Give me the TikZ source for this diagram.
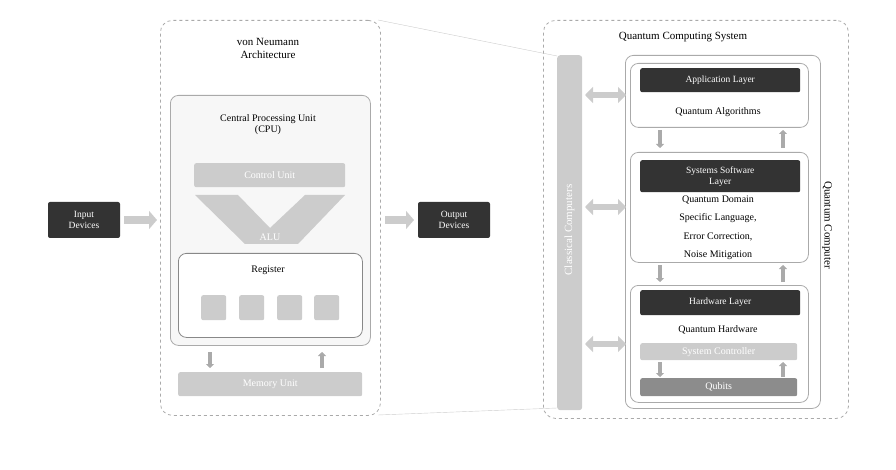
\documentclass[tikz,border=0pt]{standalone}
\usepackage{fontspec}
\setmainfont{Liberation Serif}
\usetikzlibrary{arrows.meta}
\definecolor{lg}{HTML}{CCCCCC}
\definecolor{bd}{HTML}{AAAAAA}
\definecolor{dk}{HTML}{333333}
\begin{document}
\begin{tikzpicture}[x=1pt,y=-1pt,font=\fontsize{10}{11}\selectfont,
 dbox/.style={draw=bd,dashed,thick,rounded corners=12},
 sbox/.style={draw=bd,thick,rounded corners=8},
 blk/.style={fill=dk,rounded corners=2,text=white,align=center,font=\fontsize{9.5}{11}\selectfont},
 bar/.style={fill=lg,rounded corners=2,text=white},
 garr/.style={-{Triangle[length=4pt,width=8pt]},line width=3.5pt,draw=bd},
 darr/.style={{Triangle[length=8pt,width=16pt]}-{Triangle[length=8pt,width=16pt]},line width=6pt,draw=lg},
 barr/.style={-{Triangle[length=8pt,width=18pt]},line width=8pt,draw=lg}]
\useasboundingbox (0,0) rectangle (896,470);
% connecting lines
\draw[lg] (378,20) coordinate (l1) -- (557,56) coordinate (l2);
\draw[lg] (378,415) coordinate (l3) -- (557,408) coordinate (l4);
% von Neumann
\node[dbox,minimum width=220,minimum height=395,anchor=north west] (vn) at (160,20) {};
\node[align=center,font=\fontsize{11}{13}\selectfont] (vnt) at (268,48) {von Neumann\\Architecture};
\node[sbox,fill=black!3,minimum width=200,minimum height=250,anchor=north west] (cpu) at (170,95) {};
\node[align=center] (cput) at (268,125) {Central Processing Unit\\(CPU)};
\node[bar,minimum width=151,minimum height=24,anchor=north west] (cu) at (194,163) {Control Unit};
\fill[lg] (195,195) -- (238,195) -- (270,228) -- (305,195) -- (345,195) -- (298,244) -- (245,244) -- cycle;
\node[text=white] (alu) at (270,237) {ALU};
\node[sbox,thick,draw=bd!80!black,fill=white,minimum width=184,minimum height=84,anchor=north west] (reg) at (178,253) {};
\node (regt) at (268,270) {Register};
\foreach \x/\n in {201/a,239/b,277/c,314/d}
  \node[fill=lg,rounded corners=2,minimum size=25,anchor=north west] (sq\n) at (\x,295) {};
\node[bar,minimum width=184,minimum height=24,anchor=north west] (mu) at (178,372) {Memory Unit};
\coordinate (m1) at (210,352); \coordinate (m2) at (210,368);
\coordinate (m3) at (322,368); \coordinate (m4) at (322,352);
\draw[garr] (m1) -- (m2); \draw[garr] (m3) -- (m4);
% IO
\node[blk,minimum width=72,minimum height=36] (in) at (84,220) {Input\\Devices};
\node[blk,minimum width=72,minimum height=36] (out) at (454,220) {Output\\Devices};
\coordinate (a1) at (124,220); \coordinate (a2) at (157,220);
\coordinate (a3) at (385,220); \coordinate (a4) at (414,220);
\draw[barr] (a1) -- (a2); \draw[barr] (a3) -- (a4);
% Quantum system
\node[dbox,minimum width=305,minimum height=398,anchor=north west] (qs) at (543,20) {};
\node[font=\fontsize{11}{13}\selectfont] (qst) at (683,37) {Quantum Computing System};
\node[fill=lg,rounded corners=3,minimum width=25,minimum height=355,anchor=north west] (cc) at (557,55) {};
\node[text=white,rotate=90,font=\fontsize{11}{13}\selectfont] (cct) at (569.5,230) {Classical Computers};
\node[sbox,minimum width=195,minimum height=353,anchor=north west] (qc) at (625,55) {};
\node[rotate=-90,font=\fontsize{11}{13}\selectfont] (qct) at (827,225) {Quantum Computer};
\foreach \y/\n in {95/p,207/q,344/r}{
  \coordinate (d\n1) at (585,\y); \coordinate (d\n2) at (626,\y);
  \draw[darr] (d\n1) -- (d\n2);}
% application
\node[sbox,minimum width=178,minimum height=64,anchor=north west] (app) at (630,63) {};
\node[blk,minimum width=160,minimum height=24,anchor=north west] (appl) at (640,68) {Application Layer};
\node (appt) at (718,112) {Quantum Algorithms};
% systems
\node[sbox,minimum width=178,minimum height=110,anchor=north west] (sys) at (630,152) {};
\node[blk,minimum width=160,minimum height=32,anchor=north west] (sysl) at (640,160) {Systems Software\\Layer};
\node[align=center,font=\fontsize{10}{18.5}\selectfont] (syst) at (718,228) {Quantum Domain\\Specific Language,\\Error Correction,\\Noise Mitigation};
% hardware
\node[sbox,minimum width=178,minimum height=117,anchor=north west] (hw) at (630,285) {};
\node[blk,minimum width=160,minimum height=25,anchor=north west] (hwl) at (640,290) {Hardware Layer};
\node (hwt) at (718,330) {Quantum Hardware};
\node[bar,minimum width=157,minimum height=17,anchor=north west,inner sep=0] (sc) at (640,343) {System Controller};
\node[fill=black!45,rounded corners=2,text=white,minimum width=157,minimum height=18,anchor=north west,inner sep=0] (qb) at (640,378) {Qubits};
% layer arrows
\foreach \ya/\yb/\n in {130/148/s,265/282/t,362/377/u}{
  \coordinate (e\n1) at (660,\ya); \coordinate (e\n2) at (660,\yb);
  \coordinate (f\n1) at (783,\yb); \coordinate (f\n2) at (783,\ya);
  \draw[garr] (e\n1) -- (e\n2); \draw[garr] (f\n1) -- (f\n2);}
\end{tikzpicture}
\end{document}
